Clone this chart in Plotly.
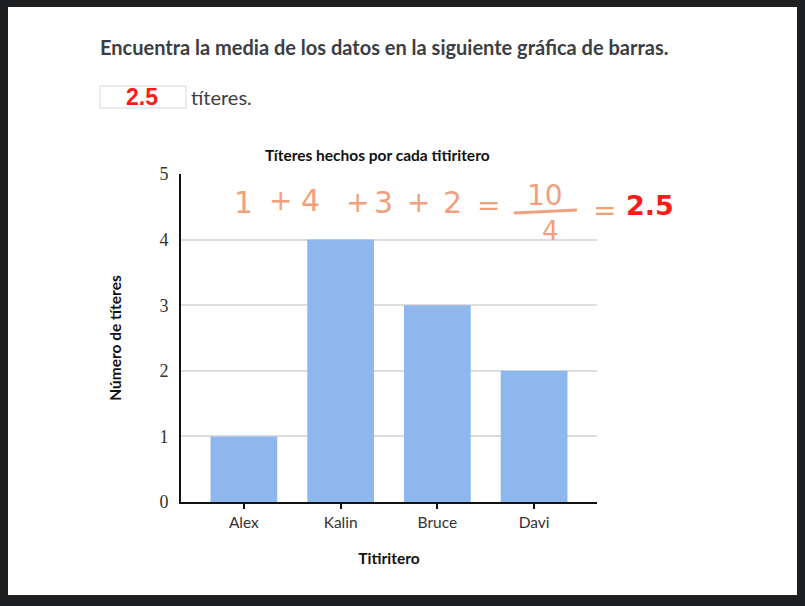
import plotly.graph_objects as go

# Data
titiriteros = ["Alex", "Kalin", "Bruce", "Davi"]
titeres = [1, 4, 3, 2]
y_ticks = [0, 1, 2, 3, 4, 5]

W, H = 805, 606
L, R, T, B = 181, 597, 174, 502  # plot area in pixels


def px(x):
    return (x - L) / (R - L)


def py(y):
    return (B - y) / (B - T)


fig = go.Figure()
fig.add_trace(go.Bar(
    x=titiriteros, y=titeres, width=0.69,
    marker=dict(color="#8EB8ED", line=dict(width=0)),
    hoverinfo="skip",
))

orange = "#F0A07C"
shapes = [
    # white page
    dict(type="rect", xref="paper", yref="paper", x0=px(8), x1=px(797), y0=py(7), y1=py(595),
         fillcolor="white", line=dict(width=0), layer="below"),
    # input box
    dict(type="rect", xref="paper", yref="paper", x0=px(100), x1=px(186), y0=py(86), y1=py(108),
         fillcolor="white", line=dict(color="#d6d6d6", width=1), layer="above"),
    # fraction bar (handwritten)
    dict(type="line", xref="paper", yref="paper", x0=px(514), x1=px(577), y0=py(213), y1=py(210),
         line=dict(color=orange, width=3)),
]

ann = []


def add_text(text, x, y, size, color, family="Lato", xanchor="left", bold=False):
    if bold:
        text = "<b>" + text + "</b>"
    ann.append(dict(text=text, xref="paper", yref="paper", x=px(x), y=py(y), showarrow=False,
                    xanchor=xanchor, yanchor="middle", font=dict(size=size, color=color, family=family)))


add_text("Encuentra la media de los datos en la siguiente gráfica de barras.", 98, 47, 20, "#3b3e43", bold=True)
add_text("2.5", 142, 97, 23, "#ff1a1a", family="Liberation Sans", xanchor="center", bold=True)
add_text("títeres.", 189, 97, 20, "#3b3e43")
add_text("Títeres hechos por cada titiritero", 377, 155, 15.5, "#111", bold=True, xanchor="center")

# handwritten working
hw = "DejaVu Sans"
for txt, x, y, s in [("1", 243, 202, 30), ("+", 280, 200, 28), ("4", 310, 200, 30),
                     ("+", 357, 202, 28), ("3", 383, 202, 30), ("+", 418, 202, 28),
                     ("2", 452, 202, 30), ("=", 488, 205, 28), ("10", 545, 196, 28),
                     ("4", 550, 231, 26), ("=", 604, 210, 28)]:
    add_text(txt, x, y, s, orange, family=hw, xanchor="center")
add_text("2.5", 650, 205, 27, "#ff1a1a", family=hw, xanchor="center", bold=True)

fig.update_layout(
    width=W, height=H,
    margin=dict(l=L, r=W - R, t=T, b=H - B),
    paper_bgcolor="#1e1f21",
    plot_bgcolor="rgba(0,0,0,0)",
    showlegend=False,
    shapes=shapes,
    annotations=ann,
    xaxis=dict(
        range=[-0.65, 3.65],
        showgrid=False,
        showline=True, linecolor="#111", linewidth=2,
        ticks="outside", ticklen=5, tickwidth=2, tickcolor="#111",
        tickfont=dict(family="Lato", size=15.5, color="#333"),
        title=dict(text="<b>Titiritero</b>", font=dict(family="Lato", size=15.5, color="#111"), standoff=24),
        fixedrange=True,
    ),
    yaxis=dict(
        range=[0, 5],
        tickvals=y_ticks,
        showgrid=True, gridcolor="#dcdcdc", gridwidth=1.5,
        zeroline=False,
        showline=True, linecolor="#111", linewidth=2,
        ticks="", ticklabelstandoff=7,
        tickfont=dict(family="Liberation Serif, Times New Roman, serif", size=18, color="#333"),
        title=dict(text="<b>Número de títeres</b>", font=dict(family="Lato", size=15.5, color="#111"), standoff=34),
        fixedrange=True,
    ),
)

fig.write_html("out.html", config={"displayModeBar": False})
